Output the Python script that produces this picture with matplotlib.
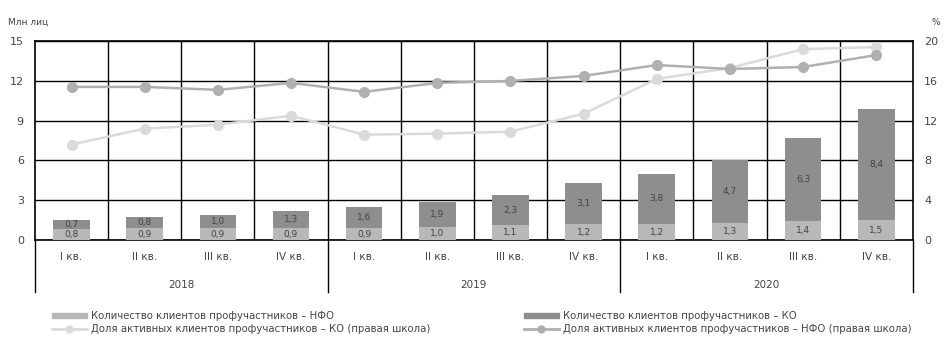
import matplotlib
matplotlib.use('Agg')
import matplotlib.pyplot as plt
from matplotlib.lines import Line2D
from matplotlib.patches import Patch

plt.rcParams['font.family'] = ['Liberation Sans Narrow', 'DejaVu Sans']

quarters = ['I кв.', 'II кв.', 'III кв.', 'IV кв.'] * 3
years = ['2018', '2019', '2020']
nfo_clients = [0.8, 0.9, 0.9, 0.9, 0.9, 1.0, 1.1, 1.2, 1.2, 1.3, 1.4, 1.5]
ko_clients = [0.7, 0.8, 1.0, 1.3, 1.6, 1.9, 2.3, 3.1, 3.8, 4.7, 6.3, 8.4]
ko_share = [9.6, 11.2, 11.6, 12.5, 10.6, 10.7, 10.9, 12.7, 16.2, 17.3, 19.2, 19.4]
nfo_share = [15.4, 15.4, 15.1, 15.8, 14.9, 15.8, 16.0, 16.5, 17.6, 17.2, 17.4, 18.6]

c_nfo = '#b8b8b8'
c_ko = '#8e8e8e'
c_ko_line = '#dadada'
c_nfo_line = '#b0b0b0'
txt = '#444444'

fig = plt.figure(figsize=(9.44, 3.40), dpi=100)
ax = fig.add_axes([0.037, 0.294, 0.930, 0.585])
x = list(range(len(quarters)))

ax.bar(x, nfo_clients, width=0.5, color=c_nfo, zorder=3)
ax.bar(x, ko_clients, width=0.5, bottom=nfo_clients, color=c_ko, zorder=3)
for i in x:
    ax.text(i, nfo_clients[i] / 2, f'{nfo_clients[i]:.1f}'.replace('.', ','),
            ha='center', va='center', fontsize=6.5, color=txt, zorder=4)
    ax.text(i, nfo_clients[i] + ko_clients[i] / 2, f'{ko_clients[i]:.1f}'.replace('.', ','),
            ha='center', va='center', fontsize=6.5, color=txt, zorder=4)

ax.set_xlim(-0.5, 11.5)
ax.set_ylim(0, 15)
ax.set_yticks([0, 3, 6, 9, 12, 15])
ax.set_xticks([])
ax.grid(axis='y', color='black', linewidth=1.0, zorder=1)
for b in range(1, 12):
    ax.axvline(b - 0.5, color='black', linewidth=1.0, zorder=1)
for s in ax.spines.values():
    s.set_linewidth(1.2)
ax.tick_params(axis='y', length=0, labelsize=8, colors=txt, pad=8)

ax2 = ax.twinx()
ax2.set_ylim(0, 20)
ax2.set_yticks([0, 4, 8, 12, 16, 20])
ax2.tick_params(axis='y', length=0, labelsize=8, colors=txt, pad=8)
for s in ax2.spines.values():
    s.set_visible(False)
ax2.plot(x, ko_share, color=c_ko_line, linewidth=1.8, marker='o', markersize=7, zorder=5)
ax2.plot(x, nfo_share, color=c_nfo_line, linewidth=1.8, marker='o', markersize=7, zorder=6)

fig.text(0.009, 0.92, 'Млн лиц', fontsize=6.5, color=txt, ha='left', va='bottom')
fig.text(0.987, 0.92, '%', fontsize=6.5, color=txt, ha='left', va='bottom')

# category axis below the plot
for i, q in enumerate(quarters):
    ax.text(i, -0.06, q, transform=ax.get_xaxis_transform(), ha='center', va='top',
            fontsize=7.5, color=txt)
for k, y in enumerate(years):
    ax.text(4 * k + 1.5, -0.2, y, transform=ax.get_xaxis_transform(), ha='center',
            va='top', fontsize=7.5, color=txt)
for b in [-0.5, 3.5, 7.5, 11.5]:
    ax.plot([b, b], [0, -0.26], transform=ax.get_xaxis_transform(), color='black',
            linewidth=1.0, clip_on=False)

h_nfo = Patch(color=c_nfo, label='Количество клиентов профучастников – НФО')
h_ko_line = Line2D([], [], color=c_ko_line, marker='o', markersize=5, linewidth=2,
                   label='Доля активных клиентов профучастников – КО (правая школа)')
h_ko = Patch(color=c_ko, label='Количество клиентов профучастников – КО')
h_nfo_line = Line2D([], [], color=c_nfo_line, marker='o', markersize=5, linewidth=2,
                    label='Доля активных клиентов профучастников – НФО (правая школа)')
leg_kw = dict(frameon=False, fontsize=7.3, handlelength=3.5, labelspacing=0.3,
              handleheight=0.5, handletextpad=0.4, labelcolor=txt)
fig.legend(handles=[h_nfo, h_ko_line], loc='lower left', bbox_to_anchor=(0.045, -0.01), **leg_kw)
fig.legend(handles=[h_ko, h_nfo_line], loc='lower left', bbox_to_anchor=(0.545, -0.01), **leg_kw)

fig.savefig('out.png', dpi=100)
